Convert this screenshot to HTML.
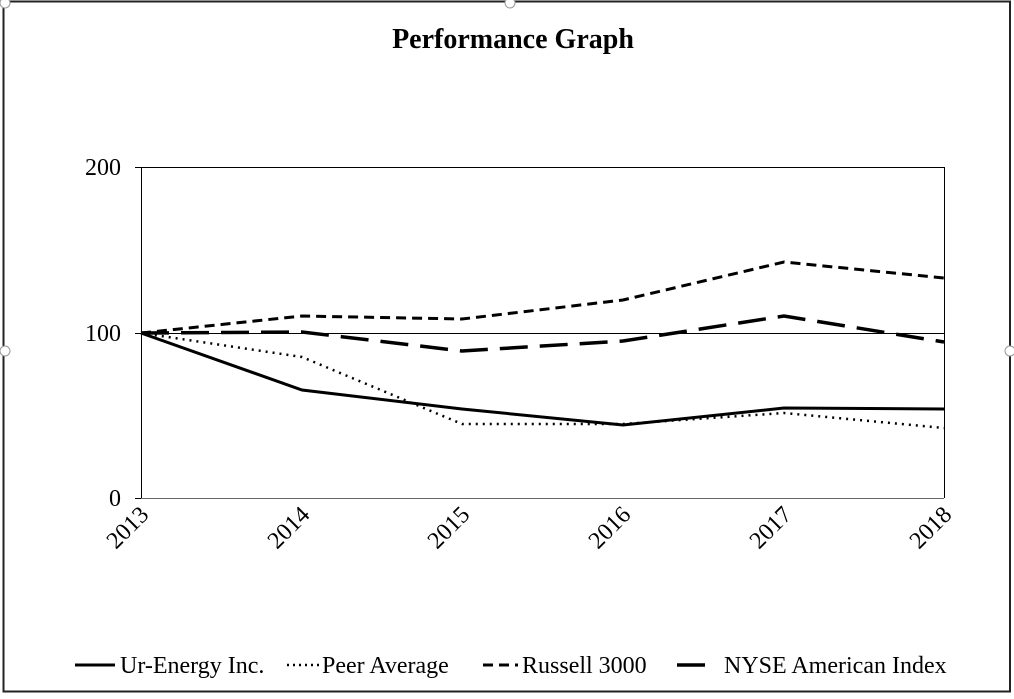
<!DOCTYPE html>
<html><head><style>
html,body{margin:0;padding:0;background:#fff;}
svg, svg text{font-family:"Liberation Serif","DejaVu Serif",serif;}
</style></head><body>
<svg width="1014" height="694" viewBox="0 0 1014 694" font-family="Liberation Serif, DejaVu Serif, serif">
<rect x="0" y="0" width="1014" height="694" fill="#fff"/>
<rect x="3.5" y="1.5" width="1006.5" height="690" fill="none" stroke="#222" stroke-width="2"/>
<circle cx="5" cy="3" r="5" fill="#fff" stroke="#999"/>
<circle cx="510" cy="3" r="5" fill="#fff" stroke="#999"/>
<circle cx="5" cy="351" r="5" fill="#fff" stroke="#999"/>
<circle cx="1010" cy="351" r="5" fill="#fff" stroke="#999"/>
<text x="513" y="48" text-anchor="middle" font-size="28" font-weight="bold" font-family="Liberation Serif, serif">Performance Graph</text>
<g shape-rendering="crispEdges">
<line x1="141" y1="167.5" x2="944" y2="167.5" stroke="#000" stroke-width="1"/>
<line x1="944.5" y1="167" x2="944.5" y2="498" stroke="#000" stroke-width="1"/>
<line x1="141" y1="333.5" x2="944" y2="333.5" stroke="#000" stroke-width="1"/>
<line x1="141" y1="498.5" x2="944" y2="498.5" stroke="#666" stroke-width="1"/>
<line x1="141.5" y1="167" x2="141.5" y2="498" stroke="#000" stroke-width="1"/>
<line x1="135" y1="167.5" x2="141" y2="167.5" stroke="#000"/>
<line x1="135" y1="333.5" x2="141" y2="333.5" stroke="#000"/>
<line x1="135" y1="498.5" x2="141" y2="498.5" stroke="#000"/>
</g>
<g font-size="24" text-anchor="end" font-family="Liberation Serif, serif">
<text x="121" y="175">200</text>
<text x="121" y="341">100</text>
<text x="121" y="506">0</text>
</g>
<g font-size="24" text-anchor="end" font-family="Liberation Serif, serif">
<text transform="translate(150,516) rotate(-45)">2013</text>
<text transform="translate(311,516) rotate(-45)">2014</text>
<text transform="translate(471,516) rotate(-45)">2015</text>
<text transform="translate(632,516) rotate(-45)">2016</text>
<text transform="translate(793,516) rotate(-45)">2017</text>
<text transform="translate(953,516) rotate(-45)">2018</text>
</g>
<g fill="none" stroke="#000" stroke-width="3">
<polyline points="141,333 302,390 462,409 623,425 784,408 944,409"/>
<polyline points="141,333 302,357 462,424 623,424 784,413 944,428" stroke-dasharray="2,5" stroke-width="2.5"/>
<polyline points="141,333 302,316 462,319 623,300 784,262 944,278" stroke-dasharray="10,6"/>
<polyline points="141,333 302,332 462,351 623,341 784,316 944,342" stroke-dasharray="28,12" stroke-width="3.5"/>
</g>
<g stroke="#000" stroke-width="3">
<line x1="75" y1="665" x2="115" y2="665"/>
<line x1="287" y1="665" x2="320" y2="665" stroke-dasharray="2,4" stroke-width="2.5"/>
<line x1="483" y1="665" x2="518" y2="665" stroke-dasharray="10,6"/>
<line x1="677" y1="665" x2="712" y2="665" stroke-dasharray="28,12" stroke-width="3.5"/>
</g>
<g font-size="24" font-family="Liberation Serif, serif">
<text x="120" y="673">Ur-Energy Inc.</text>
<text x="322" y="673">Peer Average</text>
<text x="522" y="673">Russell 3000</text>
<text x="724" y="673">NYSE American Index</text>
</g>
</svg>
</body></html>
